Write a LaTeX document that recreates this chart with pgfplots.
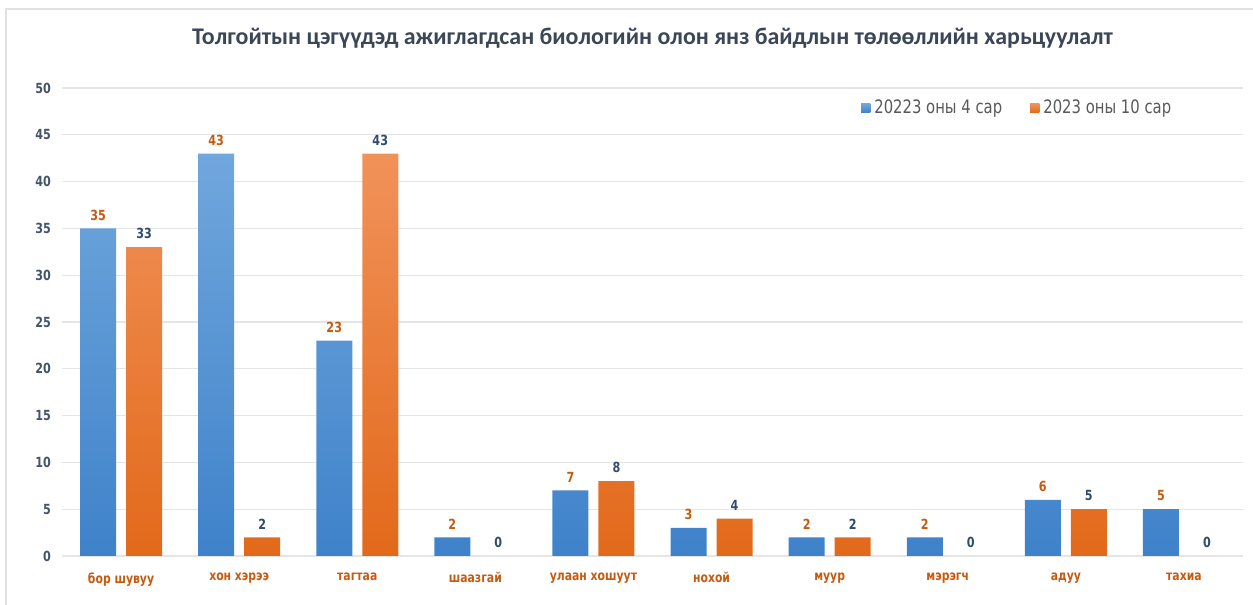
\documentclass[border=0pt]{standalone}
\usepackage{pgfplots}
\pgfplotsset{compat=1.18}
\usepackage{fontspec}
\setmainfont{DejaVu Sans}[FakeStretch=0.8]
\newfontfamily\titlefont{Carlito}

\definecolor{blueT}{HTML}{70A7DD}
\definecolor{blueB}{HTML}{3F82CA}
\definecolor{orngT}{HTML}{F1925A}
\definecolor{orngB}{HTML}{E2691A}
\definecolor{blueLeg}{HTML}{5B9BD5}
\definecolor{orngLeg}{HTML}{ED7D31}
\definecolor{catcol}{HTML}{C55A11}
\definecolor{valblue}{HTML}{2F4B6E}
\definecolor{tickcol}{HTML}{44546A}
\definecolor{titlecol}{HTML}{3B4656}
\definecolor{legtext}{HTML}{595959}

\begin{document}
\begin{tikzpicture}
\path[use as bounding box] (-31bp,-24.5bp) rectangle (595.5bp,278bp);
\draw[black!12, line width=0.6bp] (-28bp,-24.5bp) -- (-28bp,273.5bp) -- (595.5bp,273.5bp);
\begin{axis}[
  at={(0,0)}, anchor=south west, scale only axis,
  width=590.5bp, height=234bp,
  xmin=-0.5, xmax=9.5, ymin=0, ymax=50,
  ytick={0,5,...,50}, xtick=data,
  xticklabels={бор шувуу,хон хэрээ,тагтаа,шаазгай,улаан хошуут,нохой,муур,мэрэгч,адуу,тахиа},
  ybar=5bp, bar width=18bp,
  axis line style={draw=none}, tick style={draw=none},
  ymajorgrids, major grid style={draw=black!10, line width=0.6bp},
  /pgf/number format/assume math mode=true,
  yticklabel style={font=\bfseries\fontsize{7}{8}\selectfont, text=tickcol, xshift=-2bp},
  xticklabel style={font=\bfseries\fontsize{6.8}{8}\selectfont, text=catcol, yshift=-0.5bp},
  nodes near coords,
  nodes near coords style={font=\bfseries\fontsize{7}{8}\selectfont, yshift=0.5bp},
  title={\titlefont\bfseries\fontsize{12}{14}\selectfont Толгойтын цэгүүдэд ажиглагдсан биологийн олон янз байдлын төлөөллийн харьцуулалт},
  title style={at={(0.5,1)}, anchor=center, yshift=19bp, text=titlecol},
  legend style={at={(0.948,0.957)}, anchor=east, draw=none, fill=none,
    font=\fontsize{9.3}{11}\selectfont, text=legtext,
    legend columns=2, /tikz/every even column/.append style={column sep=12bp}},
]
\addplot[draw=none, top color=blueT, bottom color=blueB,
  nodes near coords style={text=catcol},
  legend image code/.code={\fill[blueLeg] (0bp,-2.3bp) rectangle (4.6bp,2.3bp);}]
  coordinates {(0,35)(1,43)(2,23)(3,2)(4,7)(5,3)(6,2)(7,2)(8,6)(9,5)};
\addplot[draw=none, top color=orngT, bottom color=orngB,
  nodes near coords style={text=valblue},
  legend image code/.code={\fill[orngLeg] (0bp,-2.3bp) rectangle (4.6bp,2.3bp);}]
  coordinates {(0,33)(1,2)(2,43)(3,0)(4,8)(5,4)(6,2)(7,0)(8,5)(9,0)};
\legend{20223 оны 4 сар, 2023 оны 10 сар}
\end{axis}
\end{tikzpicture}
\end{document}
